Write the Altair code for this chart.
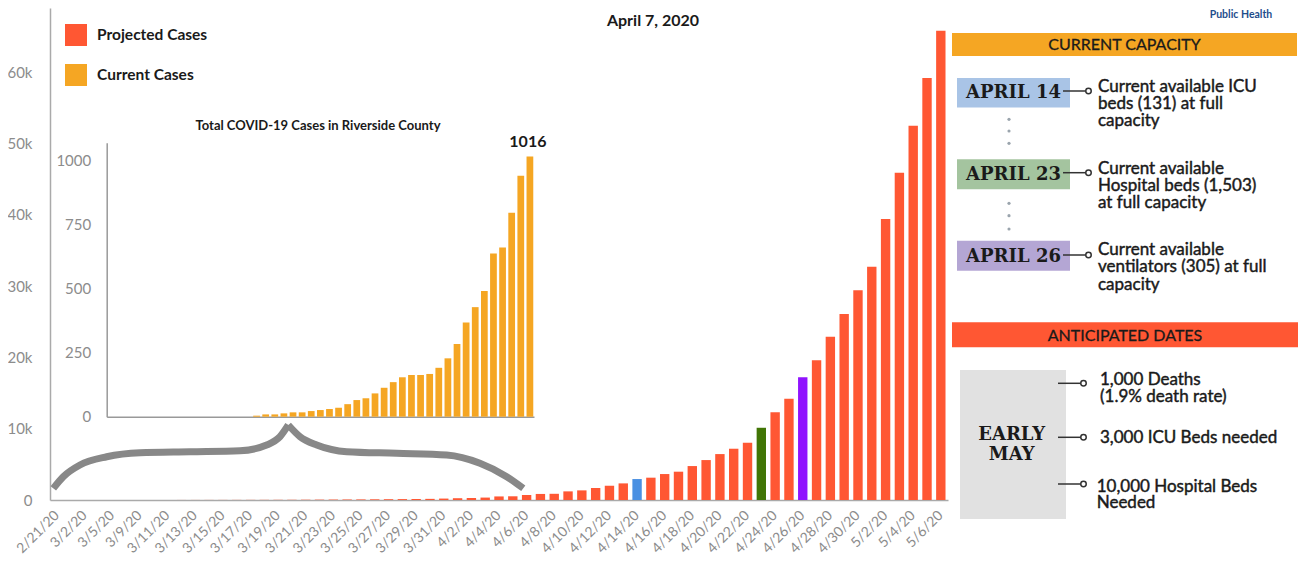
import altair as alt
import pandas as pd

# ---------------- data ----------------
main_dates = [
    "2/21/20", "2/28/20", "3/2/20", "3/3/20", "3/5/20", "3/7/20",
    "3/9/20", "3/10/20", "3/11/20", "3/12/20", "3/13/20", "3/14/20", "3/15/20", "3/16/20",
    "3/17/20", "3/18/20", "3/19/20", "3/20/20", "3/21/20", "3/22/20", "3/23/20", "3/24/20",
    "3/25/20", "3/26/20", "3/27/20", "3/28/20", "3/29/20", "3/30/20", "3/31/20",
    "4/1/20", "4/2/20", "4/3/20", "4/4/20", "4/5/20", "4/6/20", "4/7/20", "4/8/20", "4/9/20",
    "4/10/20", "4/11/20", "4/12/20", "4/13/20", "4/14/20", "4/15/20", "4/16/20", "4/17/20",
    "4/18/20", "4/19/20", "4/20/20", "4/21/20", "4/22/20", "4/23/20", "4/24/20", "4/25/20",
    "4/26/20", "4/27/20", "4/28/20", "4/29/20", "4/30/20",
    "5/1/20", "5/2/20", "5/3/20", "5/4/20", "5/5/20", "5/6/20",
]
main_cases = [
    0, 0, 0, 0, 0, 1,
    2, 3, 4, 6, 8, 10, 12, 15, 18, 22, 26, 30,
    40, 50, 60, 70, 80, 95, 110, 125, 140,
    160, 200, 250, 280, 340, 500, 520, 700, 850, 870,
    1210, 1350, 1680, 2000, 2330, 2940, 3130, 3640, 3970, 4760,
    5600, 6440, 7190, 8030, 10130, 12300, 14200, 17200, 19600, 22900,
    26100, 29400, 32700, 39400, 45900, 52500, 59200, 65800,
]
x_tick_labels = [
    "2/21/20", "3/2/20", "3/5/20", "3/9/20", "3/11/20", "3/13/20", "3/15/20", "3/17/20",
    "3/19/20", "3/21/20", "3/23/20", "3/25/20", "3/27/20", "3/29/20", "3/31/20", "4/2/20",
    "4/4/20", "4/6/20", "4/8/20", "4/10/20", "4/12/20", "4/14/20", "4/16/20", "4/18/20",
    "4/20/20", "4/22/20", "4/24/20", "4/26/20", "4/28/20", "4/30/20", "5/2/20", "5/4/20", "5/6/20",
]
y_ticks = [0, 10000, 20000, 30000, 40000, 50000, 60000]

highlight_dates = ["4/14/20", "4/23/20", "4/26/20"]
highlight_names = ["ICU beds full", "Hospital beds full", "Ventilators full"]

series_names = ["Projected Cases", "Current Cases", "ICU beds full", "Hospital beds full", "Ventilators full"]
series_colors = ["#FF5733", "#F5A623", "#4A90E2", "#417505", "#9013FE"]

inset_dates = (
    ["2/%d/20" % d for d in range(21, 30)]
    + ["3/%d/20" % d for d in range(1, 32)]
    + ["4/%d/20" % d for d in range(1, 8)]
)
inset_cases = [
    0, 0, 0, 0, 0, 0, 0, 0, 0,
    0, 0, 0, 0, 0, 0, 0,
    4, 9, 9, 13, 17, 17, 22, 26, 30, 35, 49, 65, 72, 91, 113, 135, 154, 163, 163, 167,
    191, 228, 284, 368, 428, 491, 638, 661, 797, 941, 1016,
]
inset_ticks = [0, 250, 500, 750, 1000]

# curly brace annotation (in units of category index / cases)
brace_pos_left = [-0.28, 0.44, 1.65, 3.59, 6.0, 9.62, 13.24, 15.17, 16.14, 16.74]
brace_cases_left = [1640, 3270, 4910, 6070, 6630, 6770, 6910, 7710, 8880, 10520]
brace_pos_right = [16.74, 17.59, 18.8, 20.97, 24.59, 28.21, 30.62, 32.56, 33.76]
brace_cases_right = [10520, 8880, 7710, 6770, 6550, 6310, 5150, 3270, 1640]

# ---------------- tables ----------------
status = []
for d in main_dates:
    status.append(highlight_names[highlight_dates.index(d)] if d in highlight_dates else "Projected Cases")
main_df = pd.DataFrame({"date": main_dates, "cases": main_cases, "status": status})
inset_df = pd.DataFrame({"date": inset_dates, "cases": inset_cases})
brace_df = pd.DataFrame({
    "pos": brace_pos_left + brace_pos_right,
    "cases": brace_cases_left + brace_cases_right,
    "branch": ["L"] * len(brace_pos_left) + ["R"] * len(brace_pos_right),
})

W, H = 898, 492
P_IN, P_OUT = 0.32, 0.18
n = len(main_dates)
total = n - P_IN + 2 * P_OUT
c = P_OUT + (1 - P_IN) / 2
YMAX = 69000

GRAY = "#8c8c8c"
FONT = "Lato"
TXT = "#1a1a1a"

bars = alt.Chart(main_df).mark_bar().encode(
    x=alt.X("date:N", sort=main_dates, title=None,
            scale=alt.Scale(paddingInner=P_IN, paddingOuter=P_OUT),
            axis=alt.Axis(values=x_tick_labels, labelAngle=-45, labelAlign="right",
                          labelBaseline="middle", labelPadding=13, labelFontSize=14,
                          labelColor=GRAY, ticks=False, domainColor="#aaaaaa",
                          domainWidth=1.5, labelOverlap=False)),
    y=alt.Y("cases:Q", title=None, scale=alt.Scale(domain=[0, YMAX], nice=False),
            axis=alt.Axis(values=y_ticks,
                          labelExpr="datum.value == 0 ? '0' : format(datum.value / 1000, 'd') + 'k'",
                          ticks=False, grid=False,
                          labelPadding=18, labelFontSize=15, labelColor=GRAY,
                          domainColor="#aaaaaa", domainWidth=1.5)),
    color=alt.Color("status:N", scale=alt.Scale(domain=series_names, range=series_colors),
                    legend=alt.Legend(values=["Projected Cases", "Current Cases"], title=None,
                                      orient="none", legendX=15, legendY=16, symbolType="square",
                                      symbolSize=484, symbolStrokeWidth=0, symbolOpacity=1,
                                      labelFontSize=15.5, labelFontWeight="bold", labelFont=FONT,
                                      labelColor=TXT, rowPadding=18, labelOffset=10, padding=0)),
)

brace = alt.Chart(brace_df).mark_line(color="#888888", strokeWidth=7, interpolate="monotone",
                                      strokeCap="butt").encode(
    x=alt.X("pos:Q", scale=alt.Scale(domain=[-c, total - c], nice=False, zero=False), axis=None),
    y=alt.Y("cases:Q", scale=alt.Scale(domain=[0, YMAX], nice=False), axis=None),
    detail="branch:N",
)

inset_x = alt.X("date:N", sort=inset_dates, title=None,
                scale=alt.Scale(range=[56.7, 484], paddingInner=0.26, paddingOuter=0.08),
                axis=alt.Axis(labels=False, ticks=False, domainColor="#999999", domainWidth=1.5,
                              orient="bottom", offset=-83.3))
inset_y = alt.Y("cases:Q", title=None,
                scale=alt.Scale(domain=[0, 1070], range=[408.7, 134.8], nice=False),
                axis=alt.Axis(values=inset_ticks, format="d", orient="left", offset=-56.7,
                              ticks=False, grid=False, labelPadding=16, labelFontSize=15,
                              labelColor=GRAY, domainColor="#999999", domainWidth=1.5))
inset_bars = alt.Chart(inset_df).mark_bar(color="#F5A623").encode(x=inset_x, y=inset_y)
inset_label = alt.Chart(inset_df).transform_filter(
    alt.datum.date == inset_dates[-1]
).mark_text(dy=-15, dx=-2, fontSize=16, fontWeight="bold", color=TXT, font=FONT).encode(
    x=inset_x, y=inset_y, text="cases:Q")
inset = alt.layer(inset_bars, inset_label)

one = pd.DataFrame({"k": [1]})


def txt(s, x, y, size=17, weight="normal", font=FONT, align="left", color=TXT, lh=17.3,
        stroke_w=0):
    props = dict(text=s, align=align, baseline="middle", fontSize=size, fontWeight=weight,
                 font=font, color=color, lineHeight=lh)
    if stroke_w:
        props.update(stroke=color, strokeWidth=stroke_w)
    return alt.Chart(one).mark_text(**props).encode(x=alt.value(x), y=alt.value(y))


def body(lines, x, y, lh=17.3):
    # y is the centre of the first line
    return txt(lines, x, y, size=17, lh=lh, stroke_w=0.45)


def box(x1, x2, y1, y2, color):
    return alt.Chart(one).mark_rect(color=color).encode(
        x=alt.value(x1), x2=alt.value(x2), y=alt.value(y1), y2=alt.value(y2))


def connector(x1, x2, y):
    line = alt.Chart(one).mark_rule(color="#333333", strokeWidth=1.5).encode(
        x=alt.value(x1), x2=alt.value(x2), y=alt.value(y))
    dot = alt.Chart(one).mark_point(shape="circle", size=30, filled=True, fill="white",
                                    stroke="#333333", strokeWidth=1.5, opacity=1).encode(
        x=alt.value(x2 + 2.5), y=alt.value(y))
    return [line, dot]


def dots(x, ys):
    return [alt.Chart(one).mark_circle(size=10, color="#9aa4ad", opacity=1).encode(
        x=alt.value(x), y=alt.value(yy)) for yy in ys]


SERIF = "DejaVu Serif"
ann = [
    txt("April 7, 2020", 603, 12.5, size=16, weight="bold", align="center"),
    txt("Public Health", 1191, 7, size=10.5, weight="bold", align="center", color="#1F4E8C"),
    txt("Total COVID-19 Cases in Riverside County", 268, 117.5, size=13, weight="bold",
        align="center"),
    box(902, 1247, 25, 48, "#F5A623"),
    txt("CURRENT CAPACITY", 1074.5, 37, size=16, align="center", stroke_w=0.3),
    box(907, 1020, 70, 99.5, "#A9C4E6"),
    txt("APRIL 14", 963.5, 85, size=18, weight="bold", font=SERIF, align="center"),
    *connector(1013, 1036, 83),
    body(["Current available ICU", "beds (131) at full", "capacity"], 1048, 78.7),
    *dots(959, [111.3, 123, 135.3]),
    box(907, 1020, 151.3, 181.3, "#A4C49F"),
    txt("APRIL 23", 963.5, 167, size=18, weight="bold", font=SERIF, align="center"),
    *connector(1013, 1036, 164.7),
    body(["Current available", "Hospital beds (1,503)", "at full capacity"], 1048, 160.5),
    *dots(959, [195.3, 207.7, 221]),
    box(907, 1020, 232.7, 262.7, "#B4A6D4"),
    txt("APRIL 26", 963.5, 248.7, size=18, weight="bold", font=SERIF, align="center"),
    *connector(1013, 1036, 247),
    body(["Current available", "ventilators (305) at full", "capacity"], 1048, 242),
    box(902, 1248, 314.3, 339.3, "#FF5733"),
    txt("ANTICIPATED DATES", 1075, 328, size=16, align="center", stroke_w=0.3),
    box(910, 1016, 362, 511, "#E1E1E1"),
    txt(["EARLY", "MAY"], 961.7, 427, size=18, weight="bold", font=SERIF, align="center", lh=20),
    *connector(1008, 1031, 375.3),
    *connector(1008, 1031, 429.3),
    *connector(1008, 1031, 476),
    body(["1,000 Deaths", "(1.9% death rate)"], 1050, 372),
    body("3,000 ICU Beds needed", 1050, 429.7),
    body(["10,000 Hospital Beds", "Needed"], 1046.7, 478.7, lh=16.5),
]

chart = alt.layer(bars, brace, inset, *ann).resolve_scale(
    x="independent", y="independent"
).properties(
    width=W, height=H,
    autosize=alt.AutoSizeParams(type="none"),
    padding={"left": 42, "top": 0, "right": 355, "bottom": 57},
).configure(font=FONT).configure_view(stroke="transparent")

chart.save("out.html", embed_options={"renderer": "svg", "actions": False})
